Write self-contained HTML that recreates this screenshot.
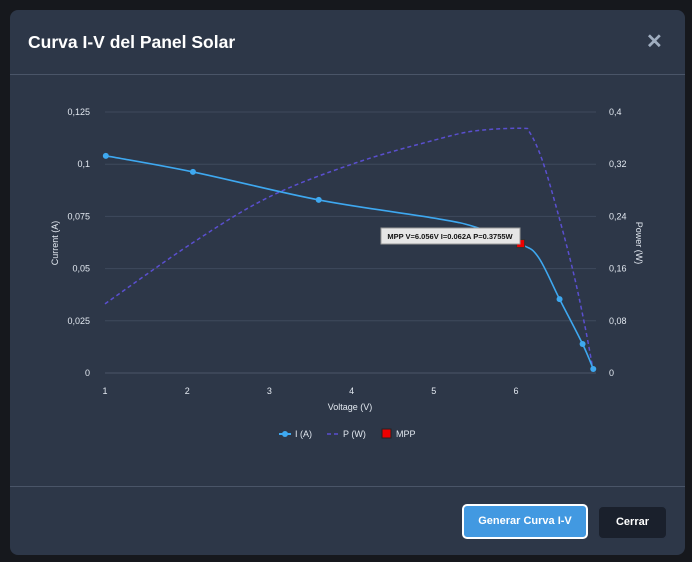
<!DOCTYPE html>
<html><head><meta charset="utf-8"><style>
html,body{margin:0;padding:0;width:692px;height:562px;overflow:hidden;background:#16181d;font-family:"Liberation Sans",sans-serif}
.modal{position:absolute;left:10px;top:10px;width:675px;height:545px;background:#2d3748;border-radius:8px}
.title{position:absolute;left:18px;top:22px;color:#fff;font-size:17.5px;font-weight:bold}
.close{position:absolute;left:636px;top:19px;color:#a0aec0;font-size:20px;font-weight:bold}
.hr{position:absolute;left:0;width:675px;height:1px;background:#4a5568}
.btn{position:absolute;height:31px;line-height:31px;text-align:center;color:#fff;font-size:11px;font-weight:bold;border-radius:5px}
svg text{font-family:"Liberation Sans",sans-serif}
</style></head><body>
<div class="modal">
<div class="title">Curva I-V del Panel Solar</div>
<div class="close">✕</div>
<div class="hr" style="top:64px"></div>
<div class="hr" style="top:476px"></div>
<div class="btn" style="left:452px;top:494px;width:122px;background:#4299e1;border:2px solid #fff">Generar Curva I-V</div>
<div class="btn" style="left:588px;top:496px;width:67px;background:#1a202c;border:1px solid #2d3748">Cerrar</div>
</div>
<svg id="chart" width="692" height="562" style="position:absolute;left:0;top:0"></svg>
<script>
const iVolt=[1.01,2.07,3.6,5.0,5.5,6.05,6.27,6.53,6.81,6.94];
const iCurr=[0.104,0.0963,0.0829,0.0742,0.070,0.0618,0.0556,0.0354,0.0139,0.0019];
const iMarked=[1,1,1,0,0,0,0,1,1,1];
const pVolt=[1,2.06,3.0,4.05,5.01,5.5,6.07,6.17,6.32,6.51,6.70,6.84,6.93];
const pPow=[0.106,0.199,0.270,0.322,0.357,0.371,0.375,0.368,0.326,0.245,0.153,0.071,0.01];
const mpp=[6.056,0.062,0.3755];
const xTicks=[1,2,3,4,5,6];
const iTicks=[0,0.025,0.05,0.075,0.1,0.125];
const iTickLabels=["0","0,025","0,05","0,075","0,1","0,125"];
const pTicks=[0,0.08,0.16,0.24,0.32,0.4];
const pTickLabels=["0","0,08","0,16","0,24","0,32","0,4"];
const X=v=>105+(v-1)*82.2, YI=i=>373-i/0.125*261, YP=p=>373-p/0.4*261;
const svg=document.getElementById('chart');const NS="http://www.w3.org/2000/svg";
function mk(t,a,txt){const e=document.createElementNS(NS,t);for(const k in a)e.setAttribute(k,a[k]);if(txt!=null)e.textContent=txt;svg.appendChild(e);return e;}
iTicks.forEach((t,k)=>{
 const g=mk('line',{x1:105,x2:596,y1:YI(t),y2:YI(t),stroke:k?'#3e4a5c':'#4a5568','stroke-width':1});
 
 
 const l=mk('text',{x:90,y:YI(t)+3,fill:'#e2e8f0','font-size':9,'text-anchor':'end'},iTickLabels[k]);
 
 
});
pTicks.forEach((t,k)=>{
 const l=mk('text',{x:609,y:YP(t)+3,fill:'#e2e8f0','font-size':9},pTickLabels[k]);
 
 
});
xTicks.forEach(t=>{
 const l=mk('text',{x:X(t),y:394,fill:'#e2e8f0','font-size':9,'text-anchor':'middle'},t);
 
 
});
let a=mk('text',{x:350,y:410,fill:'#e2e8f0','font-size':9,'text-anchor':'middle'},'Voltage (V)');


a=mk('text',{x:0,y:0,fill:'#e2e8f0','font-size':9,'text-anchor':'middle',transform:'translate(58,243) rotate(-90)'},'Current (A)');


a=mk('text',{x:0,y:0,fill:'#e2e8f0','font-size':9,'text-anchor':'middle',transform:'translate(636,243) rotate(90)'},'Power (W)');


function path(pts){let d='M'+pts[0][0]+','+pts[0][1];for(let k=0;k<pts.length-1;k++){const p0=pts[k-1]||pts[k],p1=pts[k],p2=pts[k+1],p3=pts[k+2]||p2;const c1=[p1[0]+(p2[0]-p0[0])/6,p1[1]+(p2[1]-p0[1])/6],c2=[p2[0]-(p3[0]-p1[0])/6,p2[1]-(p3[1]-p1[1])/6];d+=`C${c1} ${c2} ${p2}`;}return d;}
let p=mk('path',{d:path(pVolt.map((v,k)=>[X(v),YP(pPow[k])])),fill:'none',stroke:'#5a4fcf','stroke-width':1.5,'stroke-dasharray':'4,3'});


p=mk('path',{d:path(iVolt.map((v,k)=>[X(v),YI(iCurr[k])])),fill:'none',stroke:'#3ea8f0','stroke-width':1.6});


iVolt.forEach((v,k)=>{if(!iMarked[k])return;
 const c=mk('circle',{cx:X(v),cy:YI(iCurr[k]),r:3,fill:'#3ea8f0'});
 
 
});
const m=mk('rect',{x:X(mpp[0])-4,y:YI(mpp[1])-4,width:8,height:8,fill:'#e00',stroke:'#333','stroke-width':1});


const tb=mk('rect',{x:381,y:228,width:139,height:16,fill:'#e6e6e6',stroke:'#999','stroke-width':1});


const tt=mk('text',{x:450,y:239,fill:'#111','font-size':7.5,'font-weight':'bold','text-anchor':'middle'},`MPP V=${mpp[0]}V I=${mpp[1]}A P=${mpp[2]}W`);


let g=mk('line',{x1:279,x2:291,y1:434,y2:434,stroke:'#3ea8f0','stroke-width':2});
g=mk('circle',{cx:285,cy:434,r:3,fill:'#3ea8f0'});
g=mk('text',{x:295,y:437,fill:'#e2e8f0','font-size':9},'I (A)');
g=mk('line',{x1:327,x2:339,y1:434,y2:434,stroke:'#5a4fcf','stroke-width':1.5,'stroke-dasharray':'4,3'});
g=mk('text',{x:343,y:437,fill:'#e2e8f0','font-size':9},'P (W)');
g=mk('rect',{x:382,y:429,width:9,height:9,fill:'#e00',stroke:'#222'});
g=mk('text',{x:396,y:437,fill:'#e2e8f0','font-size':9},'MPP');
</script>
</body></html>
